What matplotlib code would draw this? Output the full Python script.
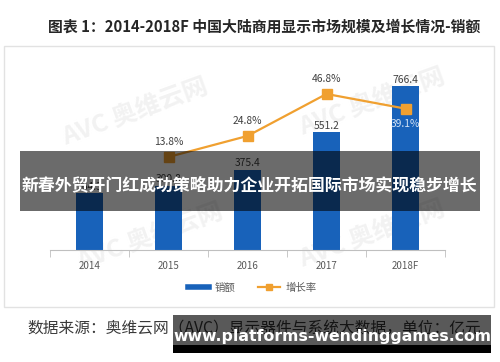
import matplotlib
matplotlib.use("Agg")
import matplotlib.pyplot as plt
from matplotlib.patches import Rectangle
from matplotlib.lines import Line2D

plt.rcParams['font.family'] = ['Noto Sans CJK SC', 'DejaVu Sans']

years = ["2014", "2015", "2016", "2017", "2018F"]
sales = [264.3, 300.8, 375.4, 551.2, 766.4]
growth_years = [1, 2, 3, 4]
growth = [13.8, 24.8, 46.8, 39.1]

title = "图表 1：2014-2018F 中国大陆商用显示市场规模及增长情况-销额"
banner = "新春外贸开门红成功策略助力企业开拓国际市场实现稳步增长"
source = "数据来源：奥维云网（AVC）显示器件与系统大数据，单位：亿元"
site = "www.platforms-wendinggames.com"
legend_labels = ["销额", "增长率"]

W, H = 500, 362
def fx(x): return x / W
def fy(y): return 1 - y / H

fig = plt.figure(figsize=(5, 3.62), dpi=100)
fig.patch.set_facecolor('white')

# chart frame
fig.add_artist(Rectangle((fx(4), fy(307)), (494 - 4) / W, (307 - 46) / H,
                         transform=fig.transFigure, facecolor='white',
                         edgecolor='#e2e2e2', lw=1, zorder=-3))

# watermarks (behind the axes)
for (x, y) in [(135, 112), (372, 102), (150, 237), (372, 234)]:
    fig.text(fx(x), fy(y), "AVC 奥维云网", fontsize=18, fontweight='bold',
             color='#f2f2f2', rotation=20, ha='center', va='center', zorder=-2)

ax = fig.add_axes([fx(50), fy(250), (445 - 50) / W, (250 - 57.4) / H])
ax.set_facecolor('none')
x = list(range(len(years)))
ax.bar(x, sales, width=0.33, color='#1862BA', zorder=2)
ax.set_xlim(-0.5, 4.5)
ax.set_ylim(0, 900)
for s in ['top', 'left', 'right']:
    ax.spines[s].set_visible(False)
ax.spines['bottom'].set_color('#bfbfbf')
ax.set_yticks([])
ax.set_xticks(x)
ax.set_xticklabels(years, fontsize=7, color='#595959')
ax.tick_params(axis='x', length=0, pad=8)
ax.set_xticks([i - 0.5 for i in range(len(years) + 1)], minor=True)
ax.tick_params(axis='x', which='minor', length=5, color='#bfbfbf', direction='out')

for xi, v in zip(x, sales):
    ax.annotate(f"{v:.1f}", (xi, v), xytext=(0, 4.5), textcoords='offset points',
                ha='center', va='center', fontsize=7.4, color='#404040', zorder=3)

ax2 = ax.twinx()
ax2.set_ylim(-34.94, 65.95)
ax2.axis('off')
ax2.plot(growth_years, growth, color='#F0A030', lw=1.6, marker='s', ms=6.5,
         markerfacecolor='#F0A030', markeredgecolor='#F0A030', zorder=4)
for xi, g in zip(growth_years, growth):
    if xi == 4:
        ax2.annotate(f"{g:.1f}%", (xi, g), xytext=(0, -11), textcoords='offset points',
                     ha='center', va='center', fontsize=7.4, color='#d5e4f5', zorder=5)
    else:
        ax2.annotate(f"{g:.1f}%", (xi, g), xytext=(0, 11), textcoords='offset points',
                     ha='center', va='center', fontsize=7.4, color='#404040', zorder=5)

handles = [Line2D([0], [0], color='#1862BA', lw=4),
           Line2D([0], [0], color='#F0A030', lw=1.6, marker='s', ms=5)]
fig.legend(handles, legend_labels, loc='center', bbox_to_anchor=(fx(252), fy(288)),
           ncol=2, frameon=False, fontsize=7.5, handlelength=2.1,
           handletextpad=0.5, columnspacing=2.2, labelcolor='#595959')

# title
fig.text(fx(264), fy(27), title, fontsize=10.7, fontweight='bold', color='#262626',
         ha='center', va='center')

# source
fig.text(fx(27), fy(329), source, fontsize=11.3, color='#3a3a3a',
         ha='left', va='center')

# banner overlay
fig.add_artist(Rectangle((fx(20), fy(211)), 460 / W, 60 / H, transform=fig.transFigure,
                         facecolor='black', alpha=0.58, edgecolor='none', zorder=10))
fig.text(fx(249), fy(185), banner, fontsize=12.2, fontweight='bold', color='white',
         ha='center', va='center', zorder=11)

# bottom site overlay
fig.add_artist(Rectangle((fx(173), fy(345)), (491 - 173) / W, 30 / H, transform=fig.transFigure,
                         facecolor='black', alpha=0.65, edgecolor='none', zorder=10))
fig.add_artist(Rectangle((fx(173), fy(353)), (491 - 173) / W, 8 / H, transform=fig.transFigure,
                         facecolor='black', edgecolor='none', zorder=10))
fig.text(fx(332), fy(336), site, fontsize=11.3, fontweight='bold', color='white',
         family='DejaVu Sans', ha='center', va='center', zorder=11)

fig.savefig('out.png', dpi=100)
